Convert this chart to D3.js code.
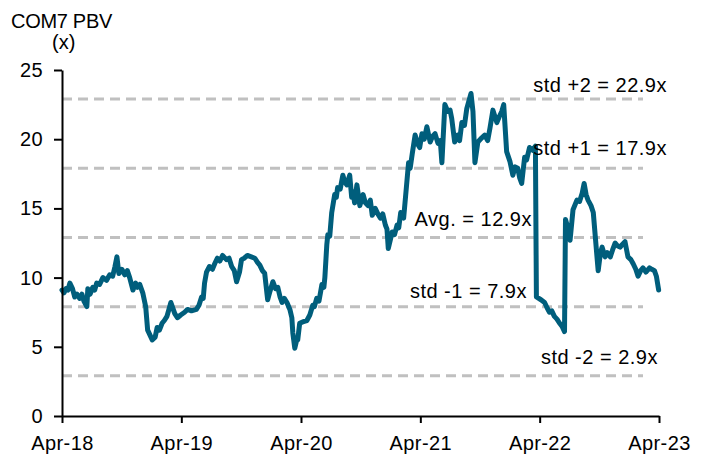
<!DOCTYPE html>
<html>
<head>
<meta charset="utf-8">
<script src="https://cdn.jsdelivr.net/npm/d3@7"></script>
<style>
  body { margin: 0; background: #fff; }
  text { font-family: "Liberation Sans", Arial, sans-serif; fill: #000; }
</style>
</head>
<body>
<div id="chart"></div>
<script>

// COM7 PBV band chart

// data (10 per line)
var dates = [
  "2018-04-01","2018-04-07","2018-04-13","2018-04-19","2018-04-25","2018-05-03","2018-05-10","2018-05-17","2018-05-25","2018-06-01",
  "2018-06-07","2018-06-16","2018-06-19","2018-06-26","2018-07-04","2018-07-10","2018-07-16","2018-07-25","2018-08-04","2018-08-15",
  "2018-08-25","2018-09-03","2018-09-10","2018-09-16","2018-09-22","2018-10-01","2018-10-10","2018-10-18","2018-10-25","2018-11-04",
  "2018-11-12","2018-11-18","2018-11-25","2018-12-04","2018-12-13","2018-12-19","2019-01-02","2019-01-11","2019-01-17","2019-01-24",
  "2019-02-01","2019-02-08","2019-02-16","2019-02-28","2019-03-06","2019-03-12","2019-03-20","2019-03-30","2019-04-11","2019-04-20",
  "2019-05-02","2019-05-17","2019-05-25","2019-06-02","2019-06-07","2019-06-11","2019-06-17","2019-06-26","2019-07-05","2019-07-12",
  "2019-07-20","2019-07-28","2019-08-05","2019-08-17","2019-08-25","2019-09-02","2019-09-10","2019-09-17","2019-09-26","2019-10-02",
  "2019-10-10","2019-10-20","2019-11-01","2019-11-12","2019-11-20","2019-11-27","2019-12-05","2019-12-12","2019-12-21","2019-12-28",
  "2020-01-06","2020-01-14","2020-01-21","2020-01-28","2020-02-03","2020-02-10","2020-02-18","2020-02-27","2020-03-04","2020-03-07",
  "2020-03-13","2020-03-18","2020-03-22","2020-03-28","2020-04-06","2020-04-19","2020-04-28","2020-05-07","2020-05-12","2020-05-19",
  "2020-05-26","2020-06-04","2020-06-10","2020-06-13","2020-06-19","2020-06-22","2020-06-28","2020-07-04","2020-07-13","2020-07-18",
  "2020-07-22","2020-07-30","2020-08-07","2020-08-13","2020-08-19","2020-08-28","2020-09-03","2020-09-07","2020-09-12","2020-09-19",
  "2020-09-28","2020-10-08","2020-10-15","2020-10-23","2020-10-30","2020-11-05","2020-11-14","2020-11-22","2020-11-30","2020-12-07",
  "2020-12-15","2020-12-20","2020-12-24","2021-01-05","2021-01-12","2021-01-20","2021-01-25","2021-01-31","2021-02-09","2021-02-18",
  "2021-02-24","2021-03-01","2021-03-07","2021-03-16","2021-03-25","2021-03-30","2021-04-06","2021-04-13","2021-04-21","2021-05-01",
  "2021-05-08","2021-05-16","2021-05-25","2021-06-01","2021-06-06","2021-06-15","2021-06-24","2021-07-01","2021-07-06","2021-07-15",
  "2021-07-24","2021-07-30","2021-08-06","2021-08-14","2021-08-21","2021-09-03","2021-09-09","2021-09-15","2021-09-24","2021-10-06",
  "2021-10-15","2021-10-24","2021-10-31","2021-11-09","2021-11-21","2021-11-28","2021-12-06","2021-12-12","2021-12-21","2021-12-31",
  "2022-01-09","2022-01-16","2022-01-24","2022-01-30","2022-02-05","2022-02-14","2022-02-20","2022-03-01","2022-03-10","2022-03-19",
  "2022-03-22","2022-04-05","2022-04-16","2022-04-24","2022-05-01","2022-05-08","2022-05-16","2022-05-24","2022-06-01","2022-06-08",
  "2022-06-16","2022-06-19","2022-06-26","2022-07-03","2022-07-12","2022-07-24","2022-08-01","2022-08-09","2022-08-15","2022-08-21",
  "2022-08-27","2022-09-05","2022-09-12","2022-09-24","2022-09-27","2022-10-04","2022-10-09","2022-10-18","2022-10-25","2022-11-03",
  "2022-11-10","2022-11-18","2022-11-25","2022-12-03","2022-12-10","2022-12-18","2022-12-27","2023-01-05","2023-01-12","2023-01-20",
  "2023-01-27","2023-02-04","2023-02-11","2023-02-20","2023-03-03","2023-03-10","2023-03-18","2023-03-24","2023-03-31"];
var pbv = [
  9.1,8.9,9.2,9.1,9.6,9.2,8.6,8.8,8.5,8.8,
  8.3,7.9,9.2,8.8,9.3,9.1,9.6,9.5,10.0,9.8,
  10.2,10.1,10.8,11.5,10.3,10.6,10.2,10.5,10.0,9.1,
  9.6,9.3,9.5,8.9,7.9,6.2,5.5,5.7,6.4,6.2,
  6.7,6.9,7.2,8.2,7.8,7.4,7.1,7.3,7.5,7.7,
  7.6,7.7,8.0,8.6,8.5,9.6,10.4,10.8,10.6,11.0,
  11.4,11.2,11.6,11.3,11.4,10.8,10.5,9.7,10.4,11.3,
  11.4,11.6,11.5,11.4,11.1,10.9,10.5,10.3,8.4,9.0,
  9.7,9.2,9.3,8.6,8.2,8.5,8.2,7.7,7.1,6.0,
  4.9,5.4,5.5,6.7,6.8,6.9,7.3,8.0,7.9,8.5,
  8.3,9.5,9.3,10.0,12.4,13.1,13.0,14.7,16.0,15.8,
  16.5,16.4,17.4,16.9,16.7,17.4,15.8,16.2,15.4,16.7,
  15.2,16.0,15.4,15.2,15.6,14.5,15.0,14.6,14.3,14.6,
  13.8,13.5,12.1,13.3,13.1,13.8,13.6,14.7,14.3,16.7,
  18.3,17.9,18.9,20.3,19.6,19.4,20.4,20.0,20.9,19.8,
  20.2,20.4,19.7,19.9,18.3,22.5,22.0,22.1,21.5,19.8,
  20.3,19.9,21.2,21.0,22.2,23.3,22.0,18.3,19.8,20.1,
  20.3,19.9,20.8,22.1,21.2,21.6,22.0,22.5,19.1,18.4,
  17.4,18.0,17.9,17.2,16.8,18.7,18.5,19.4,19.2,19.5,
  8.6,8.4,8.2,7.8,7.5,7.6,7.2,7.0,6.7,6.5,
  6.1,14.2,13.6,12.7,14.9,15.6,15.5,16.1,16.8,16.0,
  15.6,15.2,14.7,11.3,10.5,11.8,12.2,11.5,11.8,11.5,
  12.0,12.5,12.3,12.2,12.4,12.6,11.5,11.3,11.0,10.6,
  10.1,10.5,10.7,10.4,10.7,10.6,10.5,10.1,9.1];

// mean and std bands
var bandValues = [22.9, 17.9, 12.9, 7.9, 2.9];
var bandLabels = ["std +2 = 22.9x", "std +1 = 17.9x", "Avg. = 12.9x", "std -1 = 7.9x", "std -2 = 2.9x"];

// axis ticks
var yTicks = [0, 5, 10, 15, 20, 25];
var xTicks = ["2018-04-01","2019-04-01","2020-04-01","2021-04-01","2022-04-01","2023-04-01"];

var parseDate = d3.timeParse("%Y-%m-%d");
var data = dates.map(function(d, i) { return {date: parseDate(d), value: pbv[i]}; });

var margin = {top: 70, right: 51, bottom: 53, left: 62},
    width = 710 - margin.left - margin.right,
    height = 469 - margin.top - margin.bottom;

var svg = d3.select("#chart")
  .append("svg")
    .attr("width", 710)
    .attr("height", 469)
  .append("g")
    .attr("transform", "translate(" + margin.left + "," + margin.top + ")");

var x = d3.scaleTime()
  .domain([parseDate(xTicks[0]), parseDate(xTicks[xTicks.length - 1])])
  .range([0, width]);

var y = d3.scaleLinear()
  .domain([0, 25])
  .range([height, 0]);

// dashed band lines
svg.selectAll("band")
  .data(bandValues)
  .enter()
  .append("line")
    .attr("x1", 0)
    .attr("x2", width - 16)
    .attr("y1", function(d) { return y(d); })
    .attr("y2", function(d) { return y(d); })
    .attr("stroke", "#c0c0c0")
    .attr("stroke-width", 3)
    .attr("stroke-dasharray", "10,6");

// the PBV line
svg.append("path")
  .datum(data)
  .attr("fill", "none")
  .attr("stroke", "#005e7c")
  .attr("stroke-width", 5)
  .attr("stroke-linejoin", "round")
  .attr("stroke-linecap", "round")
  .attr("d", d3.line()
    .x(function(d) { return x(d.date); })
    .y(function(d) { return y(d.value); }));

// band labels, right aligned (x = right edge in plot px, dy above the line)
var labelX = [605, 605, 470, 465, 596];
var labelDy = [-7, -13, -11, -9, -12];
svg.selectAll("bandlabel")
  .data(bandValues)
  .enter()
  .append("text")
    .attr("x", function(d, i) { return labelX[i]; })
    .attr("y", function(d, i) { return y(d) + labelDy[i]; })
    .attr("text-anchor", "end")
    .style("font-size", "20px")
    .style("letter-spacing", "0.5px")
    .text(function(d, i) { return bandLabels[i]; });

// X axis
svg.append("g")
  .attr("transform", "translate(0," + height + ")")
  .call(d3.axisBottom(x)
    .tickValues(xTicks.map(parseDate))
    .tickFormat(d3.timeFormat("%b-%y"))
    .tickSize(7)
    .tickSizeOuter(0)
    .tickPadding(13));

// Y axis
svg.append("g")
  .call(d3.axisLeft(y)
    .tickValues(yTicks)
    .tickSize(8)
    .tickSizeOuter(0)
    .tickPadding(11));

svg.selectAll(".domain, .tick line")
  .attr("stroke", "#000")
  .attr("stroke-width", 2);
svg.selectAll(".tick text")
  .style("font-size", "20px")
  .style("letter-spacing", "0.4px")
  .style("font-family", "'Liberation Sans', Arial, sans-serif");

// title
svg.append("text")
  .attr("x", 11 - margin.left)
  .attr("y", 28 - margin.top)
  .style("font-size", "20px")
  .style("letter-spacing", "-0.3px")
  .text("COM7 PBV");
svg.append("text")
  .attr("x", 52 - margin.left)
  .attr("y", 49 - margin.top)
  .style("font-size", "20px")
  .text("(x)");

</script>
</body>
</html>
